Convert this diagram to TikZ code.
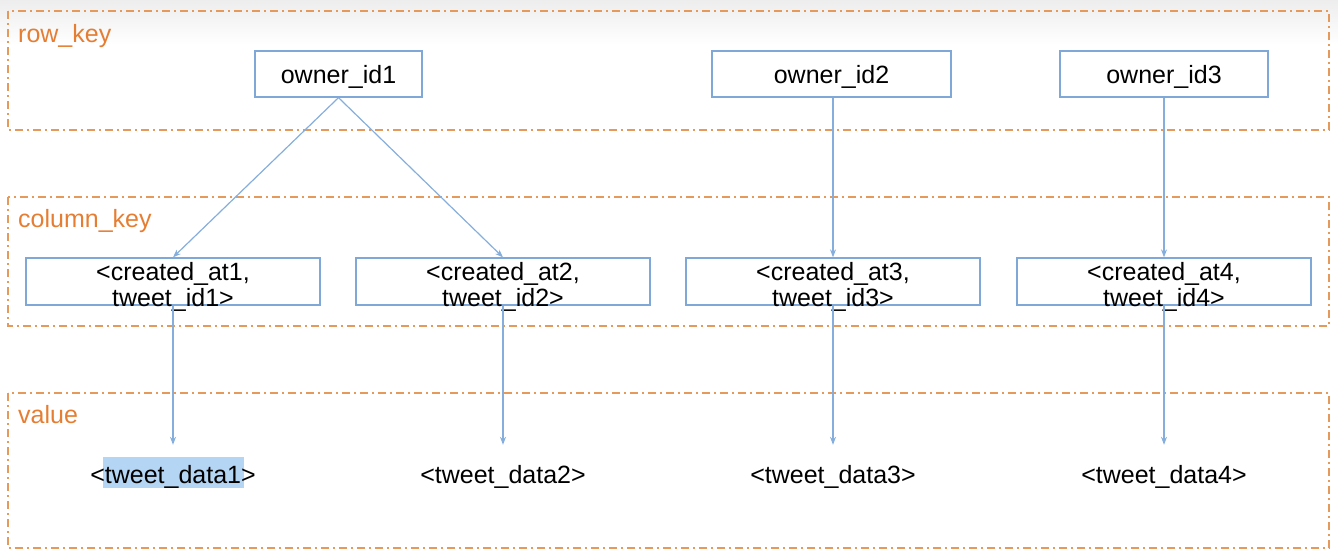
\documentclass[tikz,border=0pt]{standalone}
\usepackage{fontspec}
\setmainfont{Liberation Sans}
\usetikzlibrary{arrows.meta}
\definecolor{dashor}{HTML}{E59A5C}
\definecolor{labor}{HTML}{E57E33}
\definecolor{boxbl}{HTML}{7FA8D8}
\definecolor{arrbl}{HTML}{86AEDC}
\definecolor{hilite}{HTML}{B5D5F5}
\tikzset{
  grp/.style={draw=dashor, line width=1.4pt, dash pattern=on 8pt off 4pt on 2pt off 4pt},
  grplabel/.style={anchor=base west, inner sep=0pt, text=labor, font=\fontsize{25}{30}\selectfont},
  ownerbox/.style={draw=boxbl, line width=1.3pt, minimum height=46pt, inner sep=0pt, text height=18pt, text depth=0pt, font=\fontsize{25}{30}\selectfont},
  colbox/.style={draw=boxbl, line width=1.3pt, minimum width=294pt, minimum height=47pt, inner sep=0pt},
  coltext/.style={align=center, inner sep=0pt, font=\fontsize{25}{25.5}\selectfont},
  valtext/.style={anchor=base, inner xsep=0pt, inner ysep=20pt, text height=18pt, text depth=5pt, font=\fontsize{25}{30}\selectfont},
  link/.style={draw=arrbl, line width=1.2pt, -{Stealth[length=8pt,width=6pt]}}
}
\begin{document}
\begin{tikzpicture}[x=1pt,y=-1pt]
\useasboundingbox (0,0) rectangle (1338,557);
\shade[top color=black!7, bottom color=white] (0,0) rectangle (1338,45);
% groups
\draw[grp] (8,11) rectangle (1329,130);
\draw[grp] (8,197) rectangle (1329,326);
\draw[grp] (8,393) rectangle (1329,548);
\node[grplabel] (lrow) at (18,42) {row\_key};
\node[grplabel] (lcol) at (18,227) {column\_key};
\node[grplabel] (lval) at (18,423) {value};
% owners
\node[ownerbox, minimum width=167pt] (o1) at (338.5,74) {owner\_id1};
\node[ownerbox, minimum width=239pt] (o2) at (831.5,74) {owner\_id2};
\node[ownerbox, minimum width=208pt] (o3) at (1164,74) {owner\_id3};
% column keys
\node[colbox] (c1) at (173,281.5) {};
\node[colbox] (c2) at (503,281.5) {};
\node[colbox] (c3) at (833,281.5) {};
\node[colbox] (c4) at (1164,281.5) {};
\node[coltext] (t1) at (173,287) {<created\_at1,\\tweet\_id1>};
\node[coltext] (t2) at (503,287) {<created\_at2,\\tweet\_id2>};
\node[coltext] (t3) at (833,287) {<created\_at3,\\tweet\_id3>};
\node[coltext] (t4) at (1164,287) {<created\_at4,\\tweet\_id4>};
% values
\fill[hilite] (103,457) rectangle (244,488);
\node[valtext] (v1) at (173,483) {<tweet\_data1>};
\node[valtext] (v2) at (503,483) {<tweet\_data2>};
\node[valtext] (v3) at (833,483) {<tweet\_data3>};
\node[valtext] (v4) at (1164,483) {<tweet\_data4>};
% connectors
\draw[link] (o1.south) -- (c1.north);
\draw[link] (o1.south) -- (c2.north);
\draw[link] (o2.south -| c3.north) -- (c3.north);
\draw[link] (o3.south) -- (c4.north);
\draw[link] (c1.south) -- (v1.north);
\draw[link] (c2.south) -- (v2.north);
\draw[link] (c3.south) -- (v3.north);
\draw[link] (c4.south) -- (v4.north);
\end{tikzpicture}
\end{document}
